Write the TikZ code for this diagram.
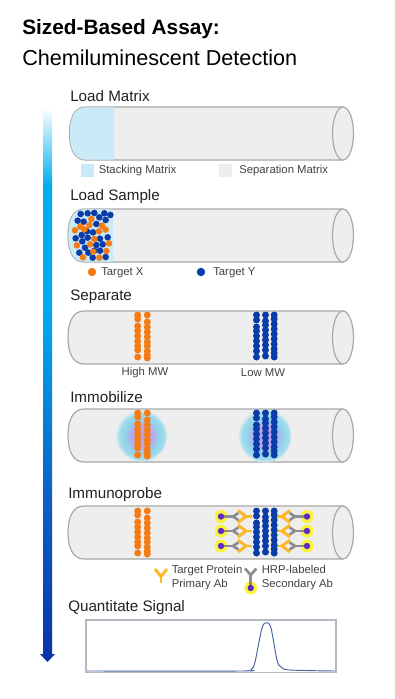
\documentclass[tikz,border=0pt]{standalone}
\usepackage{fontspec}
\setmainfont{Liberation Sans}
\usetikzlibrary{calc}
\definecolor{tubefill}{HTML}{EEEEEE}
\definecolor{tubeline}{HTML}{A9A9A9}
\definecolor{stackfill}{HTML}{CBEAF7}
\definecolor{targetx}{HTML}{F57C14}
\definecolor{targety}{HTML}{0A3CA8}
\definecolor{abyellow}{HTML}{FDB827}
\definecolor{abgray}{HTML}{8C8C8C}
\definecolor{hrp}{HTML}{5B2BC4}
\definecolor{halo}{HTML}{FBF23C}
\definecolor{inktext}{HTML}{222222}
\definecolor{tracecol}{HTML}{44609F}
\definecolor{framecol}{HTML}{B4B8C0}
% radial glow of the immobilized bands; the path edge sits at 25bp
\pgfdeclareradialshading{bandglow}{\pgfpoint{0bp}{0bp}}{
  rgb(0bp)=(0.72,0.63,0.92);
  rgb(10bp)=(0.72,0.65,0.92);
  rgb(17bp)=(0.57,0.83,0.92);
  rgb(22bp)=(0.63,0.86,0.92);
  rgb(25bp)=(0.86,0.92,0.94);
  rgb(50bp)=(0.86,0.92,0.94)}
% workflow arrow: white at the top, through cyan, to dark blue
\pgfdeclareverticalshading{flowshade}{100bp}{
  rgb(0bp)=(0.03,0.2,0.66);
  rgb(25bp)=(0.03,0.2,0.66);
  rgb(40bp)=(0.04,0.38,0.78);
  rgb(56bp)=(0,0.66,0.92);
  rgb(68bp)=(0,0.68,0.93);
  rgb(75bp)=(1,1,1);
  rgb(100bp)=(1,1,1)}
\tikzset{
  x=0.75pt, y=-0.75pt,
  heading/.style={anchor=west, inner sep=0pt, text=inktext, font=\fontsize{11.4pt}{13pt}\selectfont},
  caption/.style={anchor=west, inner sep=0pt, text=inktext!85, font=\fontsize{8.5pt}{9.9pt}\selectfont, align=left},
  tubeedge/.style={draw=tubeline, line width=0.9pt},
  beadx/.style={fill=targetx},
  beady/.style={fill=targety},
  primaryab/.style={draw=abyellow, line width=2.2pt, line cap=butt, line join=miter},
  secondaryab/.style={draw=abgray, line width=2pt, line cap=butt, line join=miter},
}
% tube body: #1 left end x, #2 top y
\newcommand{\tubebody}[2]{
  \path[tubeedge, fill=tubefill]
    ({#1+16},#2) -- (343,#2) -- (343,{#2+53}) -- ({#1+16},{#2+53})
    .. controls ({#1+4},{#2+53}) and (#1,{#2+40}) .. (#1,{#2+26.5})
    .. controls (#1,{#2+13}) and ({#1+4},#2) .. ({#1+16},#2) -- cycle;
}
\newcommand{\tubemouth}[1]{
  \draw[tubeedge, fill=tubefill] (343,{#1+26.5}) ellipse [x radius=10.5, y radius=26.5];
}
% separated protein bands, shifted by #1 px vertically
\newcommand{\orangeband}[1]{
  \foreach \cy in {315,319,326,331,336,341,346,350,357} \fill[beadx] (137.7,{\cy+#1}) circle [radius=3.5];
  \foreach \cy in {315,322,327,332,337,342,346,351,355,358} \fill[beadx] (147.3,{\cy+#1}) circle [radius=3.5];
}
\newcommand{\blueband}[1]{
  \foreach \cy in {315,320,327,331,336,341,346,351,357} \fill[beady] (256.5,{\cy+#1}) circle [radius=3.5];
  \foreach \cy in {315,321,325,330,335,340,345,350,356} \fill[beady] (265.5,{\cy+#1}) circle [radius=3.5];
  \foreach \cy in {315,319,324,329,334,339,344,349,353,357} \fill[beady] (274.2,{\cy+#1}) circle [radius=3.5];
}
% antibody pair on one row: #1 row y, #2 direction (+1 left side, -1 mirrored about x=264)
\newcommand{\abpair}[2]{
  \fill[halo] ({264-#2*43},#1) circle [radius=6.5];
  \draw[secondaryab] ({264-#2*43},#1) -- ({264-#2*31},#1);
  \draw[secondaryab] ({264-#2*25.5},{#1-3.6}) -- ({264-#2*31},#1) -- ({264-#2*25.5},{#1+3.6});
  \draw[primaryab] ({264-#2*12},#1) -- ({264-#2*19},#1);
  \draw[primaryab] ({264-#2*26},{#1-6}) -- ({264-#2*18},#1) -- ({264-#2*26},{#1+6});
  \fill[hrp] ({264-#2*43},#1) circle [radius=3.2];
}
\begin{document}
\begin{tikzpicture}
\useasboundingbox[fill=white] (0,0) rectangle (394,699);

% title
\node[anchor=west, inner sep=0pt, text=black, font=\fontsize{15.6pt}{18pt}\bfseries\selectfont] (title) at (22,29.5) {Sized-Based Assay:};
\node[anchor=west, inner sep=0pt, text=black, font=\fontsize{16.2pt}{18pt}\selectfont] (subtitle) at (22,58) {Chemiluminescent Detection};

% workflow arrow
\path[shading=flowshade]
  (43,108) -- (52,108) -- (52,654) -- (55,654) -- (47.5,662) -- (40,654) -- (43,654) -- cycle;

% step headings
\node[heading] (h1) at (70,96) {Load Matrix};
\node[heading] (h2) at (70,197) {Load Sample};
\node[heading] (h3) at (70,297) {Separate};
\node[heading] (h4) at (70,397) {Immobilize};
\node[heading] (h5) at (68,495) {Immunoprobe};
\node[heading] (h6) at (68,608) {Quantitate Signal};

% load matrix
\tubebody{69.5}{107}
\fill[stackfill] (114,107.4) -- (85.5,107.4)
    .. controls (73.5,107.4) and (69.9,120) .. (69.9,133.5)
    .. controls (69.9,147) and (73.5,159.6) .. (85.5,159.6) -- (114,159.6) -- cycle;
\tubemouth{107}
\fill[stackfill] (81,164) rectangle (94,177);
\node[caption] (lstack) at (98.5,170.5) {Stacking Matrix};
\fill[tubefill] (219,164) rectangle (232,177);
\node[caption] (lsep) at (239,170.5) {Separation Matrix};

% load sample
\tubebody{68}{209}
\fill[stackfill] (113,209.4) -- (84,209.4)
    .. controls (72,209.4) and (68.4,222) .. (68.4,235.5)
    .. controls (68.4,249) and (72,261.6) .. (84,261.6) -- (113,261.6) -- cycle;
\tubemouth{209}
\foreach \bx/\by in {62/42,83/40,103/39,133/40,151/45,118/52,53/62,71/65,137/60,109/72,
    81/94,99/97,65/105,47/115,83/113,143/112,67/124,120/116,128/133,109/135,75/143,
    58/158,85/158,103/152,120/152,98/173,137/171}
  \fill[beady] ({60+\bx/3},{200+\by/3}) circle [radius=3.3];
\foreach \bx/\by in {94/57,61/80,88/75,126/77,45/91,73/88,117/94,137/89,103/117,90/133,
    147/130,51/136,139/153,69/172,118/173,100/155}
  \fill[beadx] ({60+\bx/3},{200+\by/3}) circle [radius=3.3];
\fill[targetx] (92,272) circle [radius=4.2];
\node[caption] (lx) at (101,272.5) {Target X};
\fill[targety] (201,272) circle [radius=4.2];
\node[caption] (ly) at (213,272.5) {Target Y};

% separate
\tubebody{68}{311}
\tubemouth{311}
\orangeband{0}
\blueband{0}
\node[caption, anchor=center] (lhigh) at (145,373) {High MW};
\node[caption, anchor=center] (llow) at (263,373) {Low MW};

% immobilize
\tubebody{68}{409}
\tubemouth{409}
\path[shading=bandglow] (141.7,436) circle [radius=25.5];
\path[shading=bandglow] (265,436) circle [radius=26.5];
\orangeband{98}
\blueband{98}

% immunoprobe
\tubebody{68}{506}
\tubemouth{506}
\orangeband{196}
\foreach \rowy in {516.5,531,546} {
  \abpair{\rowy}{1}
  \abpair{\rowy}{-1}
}
\blueband{196}

% antibody legend
\draw[primaryab] (161,583) -- (161,576.5);
\draw[primaryab] (155,569) -- (161,576.5) -- (167,569);
\node[caption] (lprim) at (171.5,577.5) {Target Protein\\Primary Ab};
\fill[halo] (250.7,588) circle [radius=6.5];
\draw[secondaryab] (250.7,588) -- (250.7,575);
\draw[secondaryab] (245,568.5) -- (250.7,575) -- (256.4,568.5);
\fill[hrp] (250.7,588) circle [radius=3.2];
\node[caption] (lsec) at (261.5,577.5) {HRP-labeled\\Secondary Ab};

% signal trace
\draw[framecol, line width=0.8pt] (86,620) rectangle (336,672.7);
\draw[tracecol, line width=0.7pt] plot[smooth, tension=0.5] coordinates {
  (87,671) (240,671) (251,669.5) (255,662) (262,628) (266.7,622.7)
  (271,628) (277,660) (281,667) (290,670) (335,671)};
\end{tikzpicture}
\end{document}
